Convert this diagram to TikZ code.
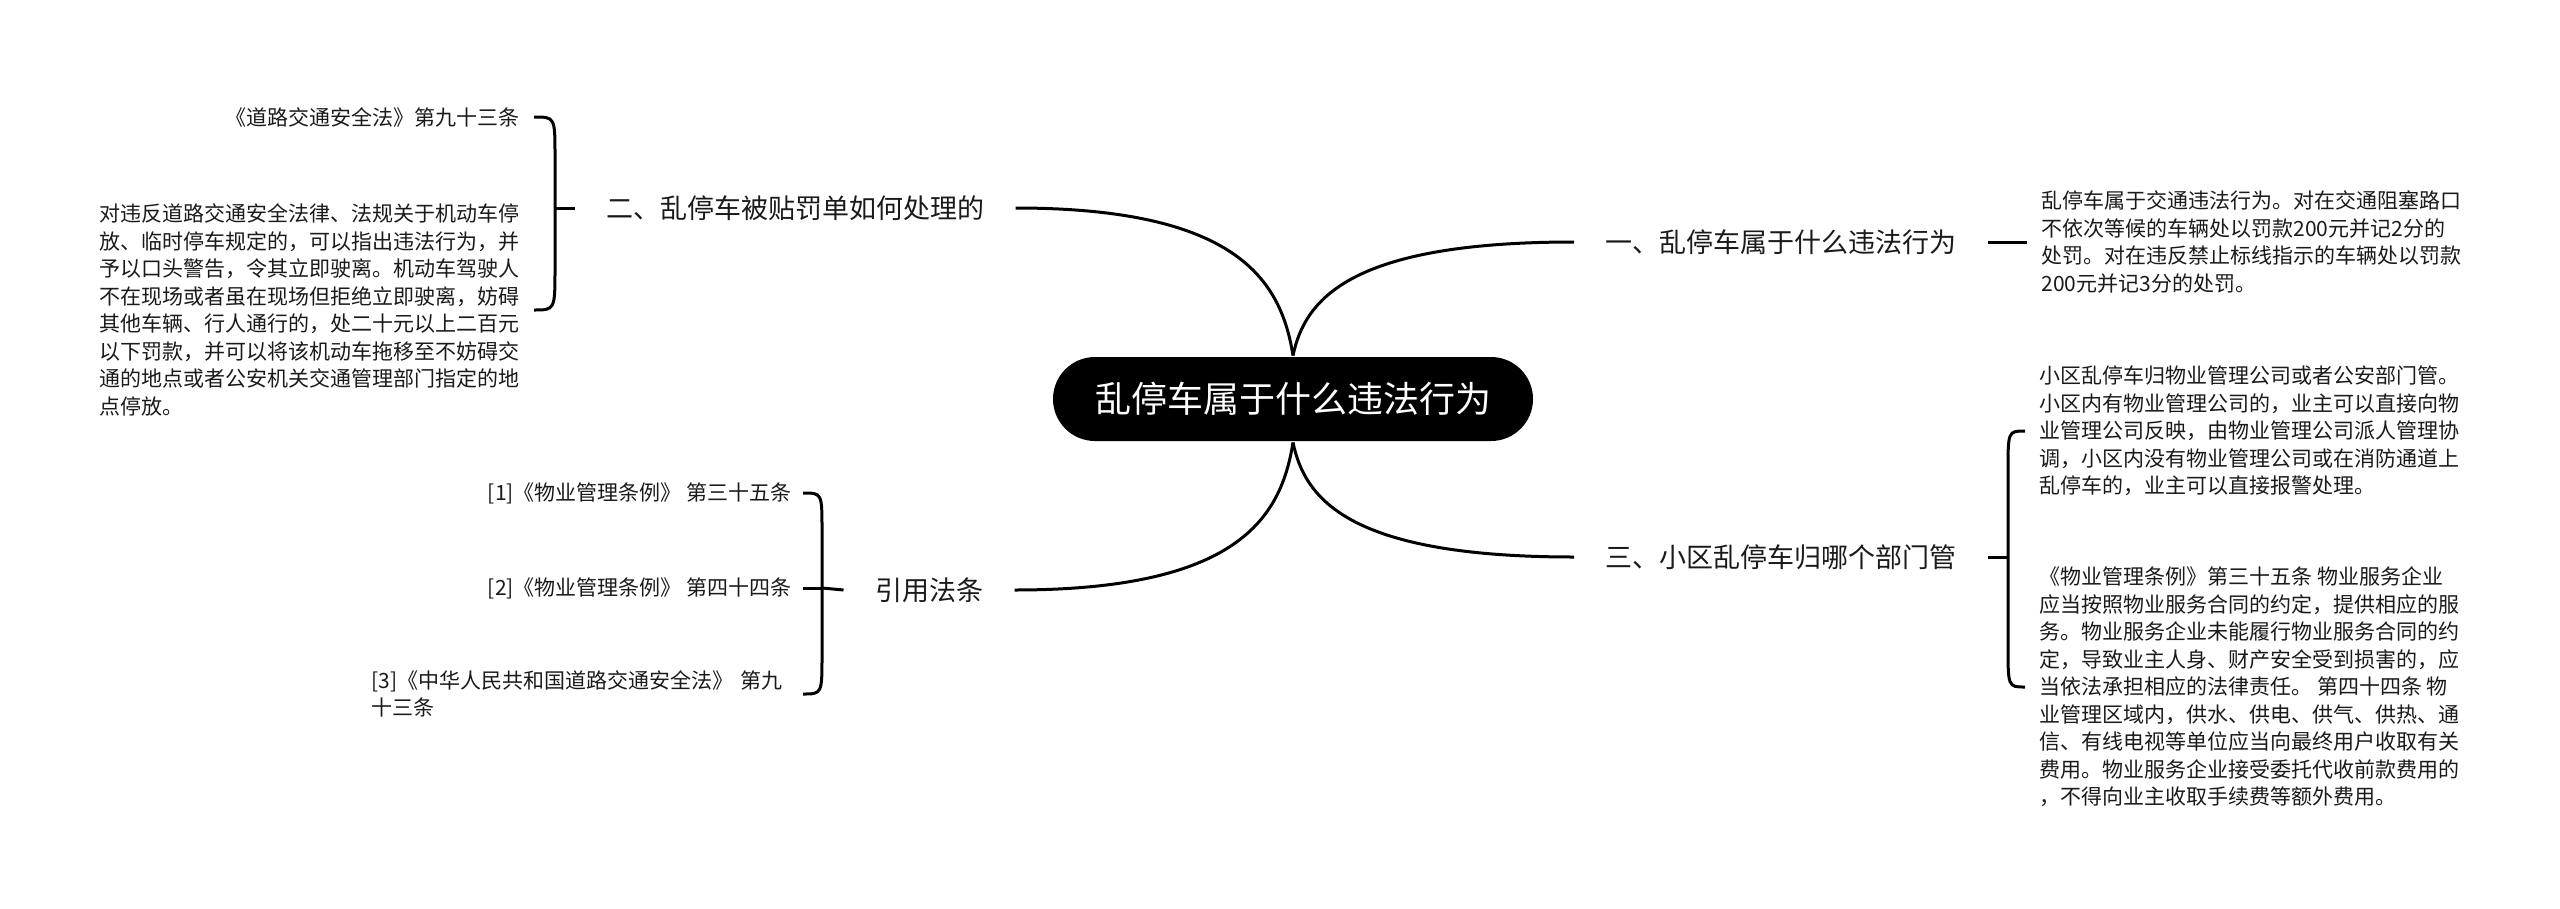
\documentclass[tikz,border=0pt]{standalone}
\usepackage{fontspec}
\setmainfont{Noto Sans CJK SC}
\definecolor{lcol}{HTML}{000000}
\definecolor{tcol}{HTML}{1A1A1A}

\begin{document}
\begin{tikzpicture}[x=1pt, y=-1pt, line width=3pt, lcol,
  root/.style={fill=black, text=white, rounded corners=42pt, minimum width=480pt,
    minimum height=84pt, inner sep=0pt, font=\fontsize{36}{40}\selectfont},
  branch/.style={text=tcol, inner xsep=30pt, inner ysep=0pt, font=\fontsize{27}{32}\selectfont},
  leaf/.style={text=tcol, align=left, inner ysep=0pt, font=\fontsize{21}{27.5}\selectfont}]
\useasboundingbox (0,0) rectangle (2560,908);

% centre and main branches
\node[root] (root) at (1293,399) {乱停车属于什么违法行为};
\node[branch] (b1) at (1781,242) {一、乱停车属于什么违法行为};
\node[branch] (b3) at (1781,557) {三、小区乱停车归哪个部门管};
\node[branch] (b2) at (795,208) {二、乱停车被贴罚单如何处理的};
\node[branch] (b4) at (929,590) {引用法条};

\draw (root.north) .. controls +(12,-57) and +(-223,0) .. (b1.west);
\draw (root.north) .. controls +(-12,-75) and +(222,0) .. (b2.east);
\draw (root.south) .. controls +(12,58) and +(-223,0) .. (b3.west);
\draw (root.south) .. controls +(-12,75) and +(224,0) .. (b4.east);

% right side
\node[leaf, anchor=west, inner xsep=13pt] (l1) at (2027,242) {乱停车属于交通违法行为。对在交通阻塞路口\\
不依次等候的车辆处以罚款200元并记2分的\\
处罚。对在违反禁止标线指示的车辆处以罚款\\
200元并记3分的处罚。};
\draw (b1.east) -- (l1.west);

\node[leaf, anchor=west, inner xsep=13pt] (l3a) at (2025,431) {小区乱停车归物业管理公司或者公安部门管。\\
小区内有物业管理公司的，业主可以直接向物\\
业管理公司反映，由物业管理公司派人管理协\\
调，小区内没有物业管理公司或在消防通道上\\
乱停车的，业主可以直接报警处理。};
\node[leaf, anchor=west, inner xsep=13pt] (l3b) at (2025,687) {《物业管理条例》第三十五条 物业服务企业\\
应当按照物业服务合同的约定，提供相应的服\\
务。物业服务企业未能履行物业服务合同的约\\
定，导致业主人身、财产安全受到损害的，应\\
当依法承担相应的法律责任。 第四十四条 物\\
业管理区域内，供水、供电、供气、供热、通\\
信、有线电视等单位应当向最终用户收取有关\\
费用。物业服务企业接受委托代收前款费用的\\
，不得向业主收取手续费等额外费用。};
\coordinate (k3) at (2008,557);
\draw (b3.east) -- (k3);
\draw (l3a.west) .. controls (2008,431) .. (2008,472) -- (2008,645) .. controls (2008,687) .. (l3b.west);

% left side
\node[leaf, anchor=east, inner xsep=13pt] (l2a) at (534,117) {《道路交通安全法》第九十三条};
\node[leaf, anchor=east, inner xsep=13pt] (l2b) at (534,310) {对违反道路交通安全法律、法规关于机动车停\\
放、临时停车规定的，可以指出违法行为，并\\
予以口头警告，令其立即驶离。机动车驾驶人\\
不在现场或者虽在现场但拒绝立即驶离，妨碍\\
其他车辆、行人通行的，处二十元以上二百元\\
以下罚款，并可以将该机动车拖移至不妨碍交\\
通的地点或者公安机关交通管理部门指定的地\\
点停放。};
\coordinate (k2) at (555,208);
\draw (k2) -- (b2.west);
\draw (l2a.east) .. controls (555,117) .. (555,156) -- (555,268) .. controls (555,310) .. (l2b.east);

\node[leaf, anchor=east, inner xsep=10pt] (l4a) at (803,493) {[1]《物业管理条例》 第三十五条};
\node[leaf, anchor=east, inner xsep=10pt] (l4b) at (803,588) {[2]《物业管理条例》 第四十四条};
\node[leaf, anchor=east, inner xsep=10pt, text width=420pt] (l4c) at (803,694) {[3]《中华人民共和国道路交通安全法》 第九\\
十三条};
\coordinate (k4) at (822,588);
\draw (l4b.east) -- (k4);
\draw (k4) -- (b4.west);
\draw (l4a.east) .. controls (822,493) .. (822,530) -- (822,655) .. controls (822,694) .. (l4c.east);
\end{tikzpicture}
\end{document}
